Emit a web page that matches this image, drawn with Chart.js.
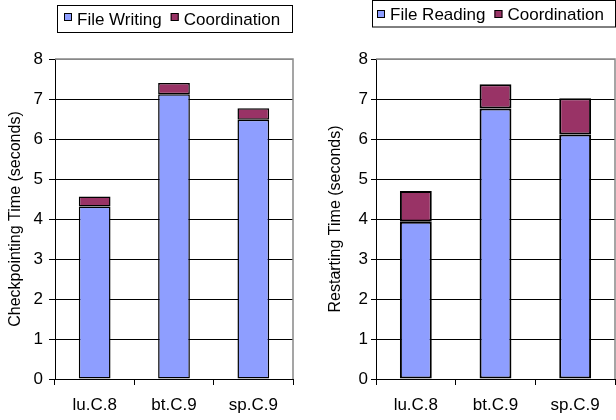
<!DOCTYPE html>
<html><head><meta charset="utf-8">
<script src="https://cdn.jsdelivr.net/npm/chart.js@4.4.0/dist/chart.umd.min.js"></script>
<style>
html,body{margin:0;padding:0;background:#fff;}
#wrap{position:relative;width:616px;height:420px;overflow:hidden;}
.panel{position:absolute;top:0;width:308px;height:420px;}
</style></head><body>
<div id="wrap">
<div class="panel" style="left:0"><canvas id="c1" width="308" height="420"></canvas></div>
<div class="panel" style="left:308px"><canvas id="c2" width="308" height="420"></canvas></div>
</div>
<script>
// ---- data ----
const categories = ['lu.C.8', 'bt.C.9', 'sp.C.9'];
const fileWriting = [4.31, 7.12, 6.48];
const coordWriting = [0.25, 0.28, 0.29];
const fileReading = [3.93, 6.76, 6.11];
const coordReading = [0.77, 0.61, 0.91];
const yMin = 0, yMax = 8, yStep = 1;
const legendNames1 = ['File Writing', 'Coordination'];
const legendNames2 = ['File Reading', 'Coordination'];
const yTitle1 = 'Checkpointing Time (seconds)';
const yTitle2 = 'Restarting Time (seconds)';

// ---- style ----
const BLUE = '#8E9EFF';
const PLUM = '#993366';
const FONT = "'Liberation Sans', Arial, sans-serif";
const FS = 17;
Chart.defaults.font.family = FONT;
Chart.defaults.font.size = FS;
Chart.defaults.color = '#000';

const framePlugin = {
  id: 'frame',
  beforeDatasetsDraw(chart) {
    const {ctx, chartArea: a} = chart;
    ctx.save();
    ctx.strokeStyle = '#888';
    ctx.lineWidth = 1.5;
    ctx.beginPath();
    ctx.moveTo(a.left, a.top);
    ctx.lineTo(a.right, a.top);
    ctx.lineTo(a.right, a.bottom);
    ctx.stroke();
    ctx.restore();
  }
};

const boxLegendPlugin = {
  id: 'boxLegend',
  afterDraw(chart, args, opts) {
    const ctx = chart.ctx;
    ctx.save();
    ctx.font = FS + 'px ' + FONT;
    ctx.strokeStyle = '#000';
    ctx.lineWidth = 1;
    ctx.strokeRect(opts.x + 0.5, opts.y + 0.5, opts.w, opts.h);
    let x = opts.x + opts.padX;
    chart.data.datasets.forEach((ds) => {
      ctx.fillStyle = ds.backgroundColor;
      ctx.fillRect(x, opts.swatchY, 8, 8);
      ctx.strokeRect(x + 0.5, opts.swatchY + 0.5, 7, 7);
      x += 8 + opts.gapSwatch;
      ctx.fillStyle = '#000';
      ctx.textBaseline = 'alphabetic';
      ctx.textAlign = 'left';
      ctx.fillText(ds.label, x, opts.baseline);
      x += ctx.measureText(ds.label).width + opts.gapItem;
    });
    ctx.restore();
  }
};

function makeChart(id, cfg) {
  return new Chart(document.getElementById(id), {
    type: 'bar',
    data: {
      labels: categories,
      datasets: [
        { label: cfg.names[0], data: cfg.a, backgroundColor: BLUE, borderColor: '#000', borderWidth: cfg.bw, borderSkipped: false },
        { label: cfg.names[1], data: cfg.b, backgroundColor: PLUM, borderColor: '#000', borderWidth: cfg.bw, borderSkipped: false }
      ]
    },
    options: {
      responsive: false,
      animation: false,
      devicePixelRatio: 1,
      layout: { padding: { top: 59, right: cfg.padRight, bottom: 0, left: 0 } },
      datasets: { bar: { categoryPercentage: 1, barPercentage: 0.4 } },
      plugins: {
        legend: { display: false },
        tooltip: { enabled: false },
        boxLegend: cfg.legend
      },
      scales: {
        x: {
          stacked: true,
          grid: { offset: true, drawOnChartArea: false, tickLength: 6, color: '#000' },
          border: { color: '#000', width: 1 },
          ticks: { padding: 10 },
          afterFit(s) { s.height = 41; }
        },
        y: {
          stacked: true,
          min: yMin, max: yMax,
          ticks: { stepSize: yStep, padding: cfg.tickPad },
          grid: {
            color: (c) => (c.tick && c.tick.value === yMax) ? '#888' : '#000',
            tickColor: '#000',
            tickLength: cfg.tickLen,
            lineWidth: 1
          },
          border: { color: '#000', width: 1 },
          title: { display: true, text: cfg.title, font: { size: 16 }, padding: { top: cfg.titlePad, bottom: 0 } },
          afterFit(s) { s.width = cfg.yWidth; }
        }
      }
    },
    plugins: [framePlugin, boxLegendPlugin]
  });
}

makeChart('c1', {
  names: legendNames1, a: fileWriting, b: coordWriting, title: yTitle1, bw: 1.5,
  padRight: 15, yWidth: 55, tickPad: 6, tickLen: 6, titlePad: 6,
  legend: { x: 57, y: 5, w: 235, h: 27, padX: 7, swatchY: 13, baseline: 24.5, gapSwatch: 5, gapItem: 9 }
});
makeChart('c2', {
  names: legendNames2, a: fileReading, b: coordReading, title: yTitle2, bw: 2,
  padRight: 1, yWidth: 68, tickPad: 3, tickLen: 5, titlePad: 18,
  legend: { x: 64, y: 0, w: 243, h: 26.5, padX: 5, swatchY: 10, baseline: 19.5, gapSwatch: 5, gapItem: 9 }
});
</script>
</body></html>
